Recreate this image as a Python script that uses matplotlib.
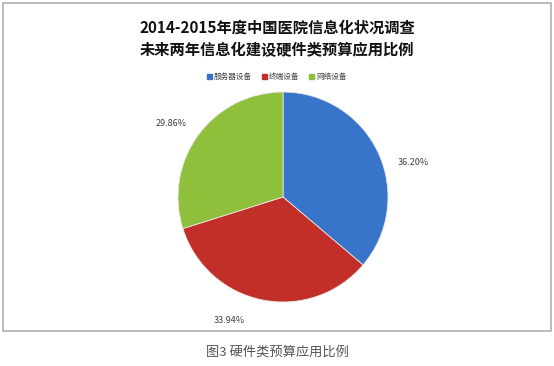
import matplotlib
matplotlib.use("Agg")
import matplotlib.pyplot as plt
import numpy as np
from matplotlib.patches import Rectangle

plt.rcParams["font.family"] = ["Noto Sans CJK SC", "DejaVu Sans"]

TITLE = "2014-2015年度中国医院信息化状况调查\n未来两年信息化建设硬件类预算应用比例"
CAPTION = "图3 硬件类预算应用比例"
labels = ["服务器设备", "终端设备", "网络设备"]
shares = [36.20, 33.94, 29.86]
colors = ["#3874c9", "#c22f29", "#8fc03c"]
label_shift = [-10, -12, 3]  # degrees, Excel "best fit" look

W, H = 554, 366
fig = plt.figure(figsize=(W / 100, H / 100), dpi=100)

# chart frame
fig.patches.append(Rectangle((3 / W, 1 - 331 / H), 548 / W, 328 / H,
                             transform=fig.transFigure, fill=False,
                             edgecolor="#b0b0b0", linewidth=1.2))

cx, cy, r = 283, 197, 105
ax = fig.add_axes([(cx - r) / W, (H - cy - r) / H, 2 * r / W, 2 * r / H])
wedges, _ = ax.pie(shares, colors=colors, startangle=90, counterclock=False,
                   radius=1, wedgeprops=dict(linewidth=0.6, edgecolor="#e8e8e8"))
ax.set_xlim(-1, 1)
ax.set_ylim(-1, 1)
ax.set_aspect("equal")
ax.axis("off")

for w, val, d in zip(wedges, shares, label_shift):
    ang = np.deg2rad((w.theta1 + w.theta2) / 2 + d)
    ax.text(1.28 * np.cos(ang), 1.28 * np.sin(ang), f"{val:.2f}%",
            ha="center", va="center", fontsize=6.5, color="#404040")

fig.text(0.5, 1 - 39 / H, TITLE, ha="center", va="center", fontsize=11,
         fontweight="bold", color="#111111", linespacing=1.45)

handles = [Rectangle((0, 0), 1, 1, color=c) for c in colors]
fig.legend(handles, labels, loc="center", bbox_to_anchor=(277 / W, 1 - 77 / H),
           ncol=3, frameon=False, fontsize=5.5, handlelength=0.6,
           handleheight=0.6, handletextpad=0.3, columnspacing=1.3,
           labelcolor="#404040")

fig.text(0.5, 1 - 352 / H, CAPTION, ha="center", va="center", fontsize=9.5,
         color="#555555")

fig.savefig("out.png", dpi=100)
